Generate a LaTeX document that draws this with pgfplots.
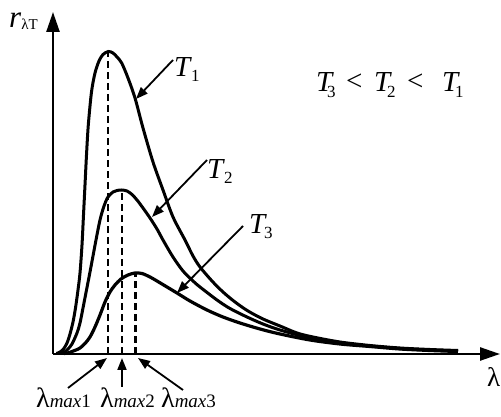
\documentclass[border=0pt]{standalone}
\usepackage{fontspec}
\setmainfont{Liberation Serif}
\usepackage{pgfplots}
\pgfplotsset{compat=1.18}
\usetikzlibrary{arrows.meta}
\newcommand{\bigf}{\fontsize{29}{30}\selectfont}
\newcommand{\subf}{\fontsize{17}{18}\selectfont}
\newcommand{\lamf}{\fontsize{28}{28}\selectfont}
\newcommand{\maxf}{\fontsize{19}{20}\selectfont}
\begin{document}
\begin{tikzpicture}
\path[use as bounding box] (-53pt,-63pt) rectangle (448pt,354pt);
\begin{axis}[
  scale only axis, width=447pt, height=342pt,
  xmin=53, xmax=500, ymin=63, ymax=405,
  axis lines=left,
  axis line style={line width=2.5pt, -{Triangle[length=20pt,width=13pt]}},
  ticks=none, clip=false,
]
% T1
\addplot[black, line width=3pt, smooth, tension=0.5] coordinates {
(56.5,63.5) (60,65) (63.5,68) (67,74) (70,83) (73,95) (75.5,109) (78,127)
(80,144) (82,172) (83.5,202) (85,232) (86.5,262) (88.3,292) (91.5,325)
(95,344) (99,356) (103,362.5) (108.3,365.5) (113,364) (117,360) (121.7,354)
(128,339) (135,319) (143,289) (153,255) (163,227) (173,200) (185,177)
(193,161) (200,150) (212,136) (223,125) (235,115) (248,106) (263,98)
(280,91) (297,84) (313,80) (340,75) (370,71.5) (400,69) (430,67.5) (458,66.5)
};
% T2
\addplot[black, line width=3pt, smooth, tension=0.5] coordinates {
(61,63.5) (64.5,65) (68,68) (72,73) (77,84) (80,94) (83,109) (86.5,127)
(90,145) (93,161) (96,177) (100,197) (104,211) (108,220) (113,225)
(117,226.5) (121.7,227) (127,226) (132,222.5) (137,217) (143,209) (150,199)
(157,188) (163,177) (173,160) (183,146) (193,136) (200,130) (217,117)
(230,108.5) (247,100) (263,93) (280,87) (310,79) (340,74) (370,71)
(400,68.5) (430,67) (458,66)
};
% T3
\addplot[black, line width=3.2pt, smooth, tension=0.5] coordinates {
(64,63.5) (68,64) (72,65.5) (76,67) (80,69) (85,73.5) (90,80) (95,90)
(100,102) (105,115) (110,125) (115,132) (121,138) (128,142) (135,144)
(142,143.5) (150,140) (157,136) (167,130) (177,124) (190,116) (207,107)
(223,100) (240,94) (260,88) (280,83) (310,77) (340,73) (370,70.5)
(400,68) (430,66.5) (458,65.5)
};
% peak lines
\addplot[black, line width=2.2pt, dash pattern=on 7pt off 4pt] coordinates {(108.3,63) (108.3,365.5)};
\addplot[black, line width=2.2pt, dash pattern=on 7pt off 4pt] coordinates {(121.7,63) (121.7,227)};
\addplot[black, line width=2.2pt, dash pattern=on 7pt off 4pt] coordinates {(135.5,63) (135.5,144)};
% annotation arrows
\draw[line width=1.8pt, -{Triangle[length=12pt,width=9pt]}] (axis cs:173,357) -- (axis cs:136,318);
\draw[line width=1.8pt, -{Triangle[length=12pt,width=9pt]}] (axis cs:207,257) -- (axis cs:152,200);
\draw[line width=1.8pt, -{Triangle[length=12pt,width=9pt]}] (axis cs:243,191) -- (axis cs:177,124);
\draw[line width=1.8pt, -{Triangle[length=12pt,width=9pt]}] (axis cs:68,29) -- (axis cs:107,59);
\draw[line width=1.8pt, -{Triangle[length=12pt,width=9pt]}] (axis cs:122,30) -- (axis cs:122,59);
\draw[line width=1.8pt, -{Triangle[length=12pt,width=9pt]}] (axis cs:183,27) -- (axis cs:138,59);
% labels
\node[anchor=base west, inner sep=0] at (axis cs:174,340) {\bigf\textit{T}\kern-1pt\raisebox{-5pt}{\subf 1}};
\node[anchor=base west, inner sep=0] at (axis cs:207,238) {\bigf\textit{T}\kern-1pt\raisebox{-5pt}{\subf 2}};
\node[anchor=base west, inner sep=0] at (axis cs:249,183) {\bigf\textit{T}\kern-3pt\raisebox{-5pt}{\subf 3}};
\node[anchor=base west, inner sep=0] at (axis cs:316,325) {\bigf\textit{T}\kern-7pt\raisebox{-6pt}{\subf 3}};
\node[anchor=base west, inner sep=0] at (axis cs:346,326) {\bigf <};
\node[anchor=base west, inner sep=0] at (axis cs:374,325) {\bigf\textit{T}\kern-5pt\raisebox{-6pt}{\subf 2}};
\node[anchor=base west, inner sep=0] at (axis cs:407,326) {\bigf <};
\node[anchor=base west, inner sep=0] at (axis cs:442,325) {\bigf\textit{T}\kern-5pt\raisebox{-6pt}{\subf 1}};
\node[anchor=base west, inner sep=0] at (axis cs:9,389) {\fontsize{31}{31}\selectfont\textit{r}\raisebox{-2pt}{\fontsize{15}{15}\selectfont λT}};
\node[anchor=base west, inner sep=0] at (axis cs:36,9) {\lamf λ{\maxf\textit{max}1}};
\node[anchor=base west, inner sep=0] at (axis cs:100,9) {\lamf λ{\maxf\textit{max}2}};
\node[anchor=base west, inner sep=0] at (axis cs:161,9) {\lamf λ{\maxf\textit{max}3}};
\node[anchor=base west, inner sep=0] at (axis cs:487,30) {\fontsize{27}{27}\selectfont λ};
\end{axis}
\end{tikzpicture}
\end{document}
